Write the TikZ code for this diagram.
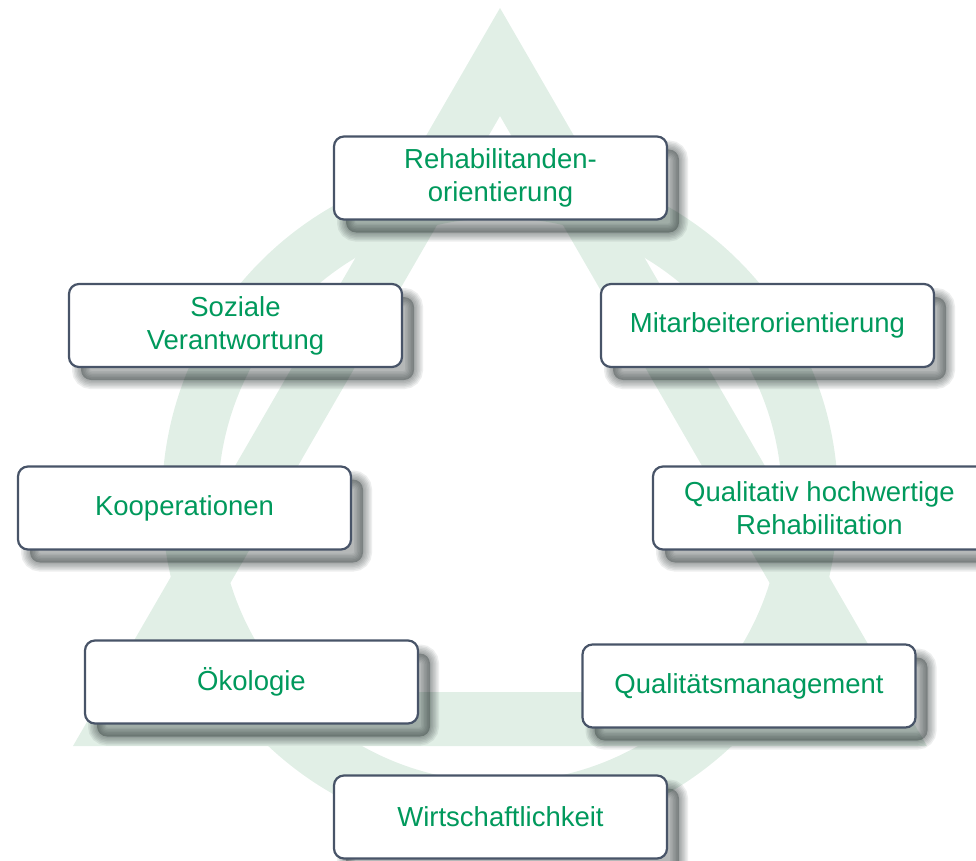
\documentclass[tikz,border=0pt]{standalone}
\usepackage{fontspec}
\setmainfont{Liberation Sans}
\definecolor{bggreen}{RGB}{225,239,230}
\definecolor{txtgreen}{RGB}{0,153,92}
\definecolor{boxborder}{RGB}{72,84,104}
\definecolor{shadowcol}{RGB}{30,40,40}
\tikzset{
  shadowring/.style={preaction={draw=shadowcol, draw opacity=.08, line width=#1,
      transform canvas={shift={(12pt,-13pt)}}}},
  softshadow/.style={
    preaction={fill=shadowcol, fill opacity=.33,
      transform canvas={shift={(12pt,-13pt)}}},
    shadowring=3pt, shadowring=6pt, shadowring=9pt,
    shadowring=12pt, shadowring=15pt, shadowring=18pt
  },
  pillar/.style={
    softshadow,
    draw=boxborder, line width=2.2pt, fill=white,
    rounded corners=10pt,
    minimum width=333pt, minimum height=83pt,
    text=txtgreen, align=center,
    font=\fontsize{27.5}{33}\selectfont,
    inner sep=0pt
  }
}
\begin{document}
\begin{tikzpicture}[x=1pt,y=-1pt]
\useasboundingbox (0,0) rectangle (976,861);
\clip (0,0) rectangle (976,861);
% background triangle band
\fill[bggreen, even odd rule]
  (500,8) -- (927,746) -- (73,746) -- cycle
  (500,116) -- (832.6,692) -- (167.4,692) -- cycle;
% background ring
\fill[bggreen, even odd rule]
  (500,500) circle [radius=338pt]
  (500,500) circle [radius=282pt];
% boxes
\node[pillar] (reha)     at (500.5,178)   {Rehabilitanden-\\orientierung};
\node[pillar] (sozial)   at (235.5,325.5) {Soziale\\Verantwortung};
\node[pillar] (mitarb)   at (767.5,325.5) {Mitarbeiterorientierung};
\node[pillar] (koop)     at (184.5,508)   {Kooperationen};
\node[pillar] (qualreha) at (819.5,508)   {Qualitativ hochwertige\\Rehabilitation};
\node[pillar] (oeko)     at (251.5,682)   {Ökologie};
\node[pillar] (qm)       at (749,686)     {Qualitätsmanagement};
\node[pillar] (wirt)     at (500.5,817)   {Wirtschaftlichkeit};
\end{tikzpicture}
\end{document}
